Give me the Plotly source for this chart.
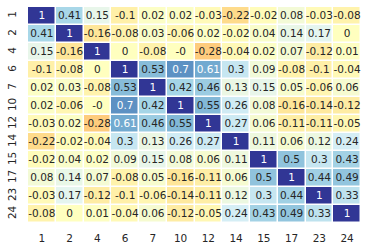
import plotly.graph_objects as go

labels = ["1", "2", "4", "6", "7", "10", "12", "14", "15", "17", "23", "24"]

row_1 = [1, 0.41, 0.15, -0.1, 0.02, 0.02, -0.03, -0.22, -0.02, 0.08, -0.03, -0.08]
row_2 = [0.41, 1, -0.16, -0.08, 0.03, -0.06, 0.02, -0.02, 0.04, 0.14, 0.17, 0]
row_4 = [0.15, -0.16, 1, 0, -0.08, -0.0, -0.28, -0.04, 0.02, 0.07, -0.12, 0.01]
row_6 = [-0.1, -0.08, 0, 1, 0.53, 0.7, 0.61, 0.3, 0.09, -0.08, -0.1, -0.04]
row_7 = [0.02, 0.03, -0.08, 0.53, 1, 0.42, 0.46, 0.13, 0.15, 0.05, -0.06, 0.06]
row_10 = [0.02, -0.06, -0.0, 0.7, 0.42, 1, 0.55, 0.26, 0.08, -0.16, -0.14, -0.12]
row_12 = [-0.03, 0.02, -0.28, 0.61, 0.46, 0.55, 1, 0.27, 0.06, -0.11, -0.11, -0.05]
row_14 = [-0.22, -0.02, -0.04, 0.3, 0.13, 0.26, 0.27, 1, 0.11, 0.06, 0.12, 0.24]
row_15 = [-0.02, 0.04, 0.02, 0.09, 0.15, 0.08, 0.06, 0.11, 1, 0.5, 0.3, 0.43]
row_17 = [0.08, 0.14, 0.07, -0.08, 0.05, -0.16, -0.11, 0.06, 0.5, 1, 0.44, 0.49]
row_23 = [-0.03, 0.17, -0.12, -0.1, -0.06, -0.14, -0.11, 0.12, 0.3, 0.44, 1, 0.33]
row_24 = [-0.08, 0, 0.01, -0.04, 0.06, -0.12, -0.05, 0.24, 0.43, 0.49, 0.33, 1]

z = [row_1, row_2, row_4, row_6, row_7, row_10, row_12, row_14, row_15, row_17, row_23, row_24]

rdylbu = ["#a50026", "#d73027", "#f46d43", "#fdae61", "#fee090", "#ffffbf",
          "#e0f3f8", "#abd9e9", "#74add1", "#4575b4", "#313695"]
colorscale = [[i / 10, c] for i, c in enumerate(rdylbu)]

fig = go.Figure()
fig.add_trace(go.Heatmap(
    z=z, x=labels, y=labels, colorscale=colorscale, zmin=-1, zmax=1,
    showscale=False, xgap=1.5, ygap=1.5, hoverinfo="skip",
))

tx, ty, tt, tc = [], [], [], []
for i, r in enumerate(labels):
    for j, c in enumerate(labels):
        v = z[i][j]
        tx.append(c)
        ty.append(r)
        tt.append("%g" % v)
        tc.append("white" if v >= 0.6 else "#262626")

fig.add_trace(go.Scatter(
    x=tx, y=ty, text=tt, mode="text",
    textfont=dict(family="DejaVu Sans", size=10.5, color=tc),
    hoverinfo="skip", showlegend=False, cliponaxis=False,
))

n = len(labels)
fig.update_layout(
    width=370, height=251,
    margin=dict(l=28, r=9, t=7, b=28),
    paper_bgcolor="white", plot_bgcolor="white",
    font=dict(family="DejaVu Sans", size=10.5, color="#262626"),
    showlegend=False,
)
fig.update_xaxes(type="category", range=[-0.5, n - 0.5], showgrid=False, zeroline=False,
                 showline=False, ticks="outside", ticklen=5, tickcolor="rgba(0,0,0,0)",
                 automargin=False)
fig.update_yaxes(type="category", range=[n - 0.5, -0.5], showgrid=False, zeroline=False,
                 showline=False, ticks="outside", ticklen=7, tickcolor="rgba(0,0,0,0)",
                 tickangle=-90, automargin=False)

fig.write_html("out.html", config={"displayModeBar": False},
               post_script="document.body.style.margin='0';document.body.style.overflow='hidden';")
